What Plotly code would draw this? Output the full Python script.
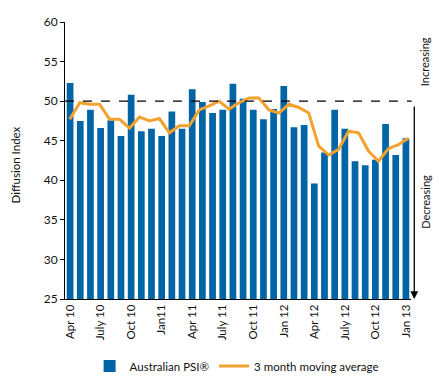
import plotly.graph_objects as go

# Months for bars (Apr 10 .. Jan 13)
months = ["Apr 10", "May 10", "Jun 10", "Jul 10", "Aug 10", "Sep 10", "Oct 10", "Nov 10", "Dec 10",
          "Jan 11", "Feb 11", "Mar 11", "Apr 11", "May 11", "Jun 11", "Jul 11", "Aug 11", "Sep 11",
          "Oct 11", "Nov 11", "Dec 11", "Jan 12", "Feb 12", "Mar 12", "Apr 12", "May 12", "Jun 12",
          "Jul 12", "Aug 12", "Sep 12", "Oct 12", "Nov 12", "Dec 12", "Jan 13"]

psi = [52.3, 47.5, 48.9, 46.6, 47.6, 45.6, 50.8, 46.2, 46.5,
       45.6, 48.7, 46.5, 51.5, 49.9, 48.5, 48.9, 52.2, 50.3,
       48.9, 47.7, 49.0, 51.9, 46.7, 47.0, 39.6, 43.5, 48.9,
       46.5, 42.4, 41.9, 42.6, 47.1, 43.2, 45.3]

# 3 month moving average series (Mar 10 .. Jan 13)
ma_months = ["Mar 10"] + months
ma = [47.7, 49.8, 49.6, 49.6, 47.7, 47.7, 46.6, 48.0, 47.5, 47.8,
      46.0, 46.9, 46.9, 48.9, 49.4, 50.0, 49.0, 49.8, 50.4, 50.4,
      48.9, 48.5, 49.6, 49.2, 48.5, 44.3, 43.2, 43.9, 46.2, 46.0,
      43.7, 42.4, 44.0, 44.5, 45.3]

tick_months = ["Apr 10", "Jul 10", "Oct 10", "Jan 11", "Apr 11", "Jul 11",
               "Oct 11", "Jan 12", "Apr 12", "Jul 12", "Oct 12", "Jan 13"]
tick_labels = ["Apr 10", "July 10", "Oct 10", "Jan11", "Apr 11", "July 11",
               "Oct 11", "Jan 12", "Apr 12", "July 12", "Oct 12", "Jan 13"]

BLUE = "#0065A6"
ORANGE = "#F2A22F"
FONT = "Lato"

fig = go.Figure()
fig.add_trace(go.Bar(x=months, y=psi, name="Australian PSI®", marker=dict(color=BLUE, line=dict(width=0)),
                     xaxis="x", yaxis="y"))
fig.add_trace(go.Scatter(x=ma_months, y=ma, name="3 month moving average", mode="lines",
                         line=dict(color=ORANGE, width=3), xaxis="x2", yaxis="y"))

fig.update_layout(
    width=439, height=379,
    margin=dict(l=64.5, r=28, t=22, b=80, autoexpand=False),
    paper_bgcolor="white", plot_bgcolor="white",
    font=dict(family=FONT, size=11, color="#111111"),
    bargap=0.34,
    showlegend=True,
    legend=dict(orientation="h", x=0.496, xanchor="center", y=-0.242, yanchor="middle",
                font=dict(size=11.5, family=FONT), itemwidth=30, traceorder="normal"),
    xaxis=dict(type="category", categoryorder="array", categoryarray=months,
               range=[-0.5, 33.5], showline=True, linecolor="black", linewidth=1,
               tickmode="array", tickvals=tick_months, ticktext=tick_labels,
               tickangle=-90, ticks="", showgrid=False, zeroline=False,
               tickfont=dict(size=11.5, family=FONT)),
    xaxis2=dict(type="category", categoryorder="array", categoryarray=ma_months,
                overlaying="x", range=[-0.48, 34.27], visible=False),
    yaxis=dict(range=[25, 60], dtick=5, tick0=25, showline=True, linecolor="black", linewidth=1,
               ticks="outside", ticklen=4, tickcolor="black", showgrid=False, zeroline=False,
               tickfont=dict(size=12, family=FONT)),
    shapes=[dict(type="line", xref="paper", yref="y", x0=0, x1=1.002, y0=50, y1=50,
                 line=dict(color="black", width=1.2, dash="dash"))],
    annotations=[
        dict(text="Diffusion Index", xref="paper", yref="paper", x=-0.143, y=0.484,
             xanchor="center", yanchor="middle",
             textangle=-90, showarrow=False, font=dict(size=11.5, family=FONT)),
        dict(text="Increasing", xref="paper", yref="y", x=1.041, y=54.95,
             xanchor="center", yanchor="middle",
             textangle=-90, showarrow=False, font=dict(size=11, family=FONT)),
        dict(text="Decreasing", xref="paper", yref="y", x=1.041, y=37.3,
             xanchor="center", yanchor="middle",
             textangle=-90, showarrow=False, font=dict(size=11, family=FONT)),
        dict(text="", xref="paper", yref="y", x=1.0095, y=60.25, ax=0, ay=77,
             showarrow=True, arrowhead=2, arrowsize=1.2, arrowwidth=1.3, arrowcolor="black"),
        dict(text="", xref="paper", yref="y", x=1.0095, y=25.0, ax=0, ay=-194,
             showarrow=True, arrowhead=2, arrowsize=1.2, arrowwidth=1.3, arrowcolor="black"),
    ],
)

fig.write_html("out.html", config={"displayModeBar": False},
               post_script="document.body.style.margin='0px';document.body.style.padding='0px';")
